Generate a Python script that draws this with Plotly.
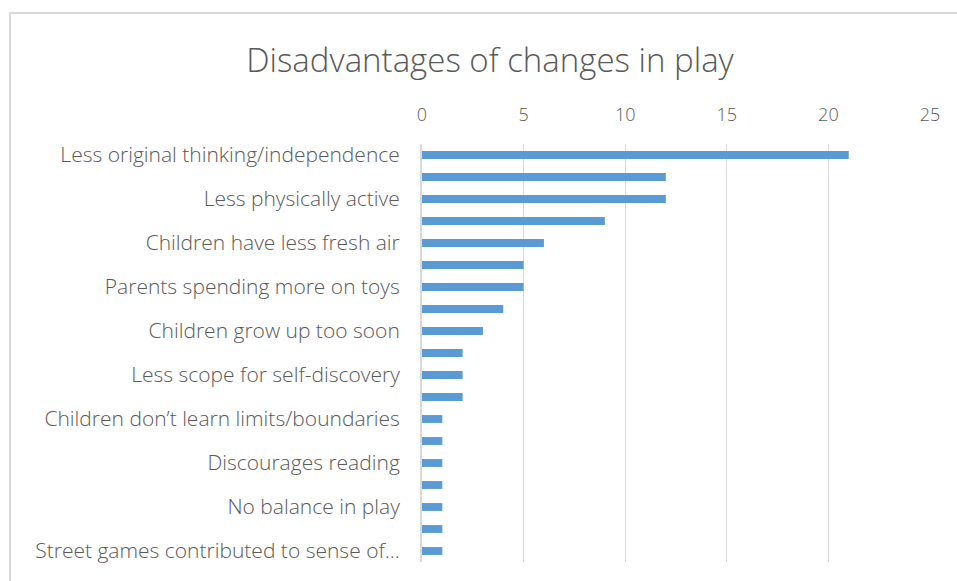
import plotly.graph_objects as go

# Survey responses: disadvantages of changes in play (count of mentions)
categories = [
    "Less original thinking/independence",
    "Less social interaction",
    "Less physically active",
    "Less imaginative play",
    "Children have less fresh air",
    "Too much screen time",
    "Parents spending more on toys",
    "Less play with other ages",
    "Children grow up too soon",
    "Less risk-taking",
    "Less scope for self-discovery",
    "Fewer traditional games",
    "Children don’t learn limits/boundaries",
    "More isolated play",
    "Discourages reading",
    "Less family play",
    "No balance in play",
    "Less use of local spaces",
    "Street games contributed to sense of…",
]
values = [21, 12, 12, 9, 6, 5, 5, 4, 3, 2, 2, 2, 1, 1, 1, 1, 1, 1, 1]

# Only every other category gets a visible label
shown_labels = categories[::2]

x_ticks = [0, 5, 10, 15, 20, 25]

text_color = "#595959"
grid_color = "#d9d9d9"
font_family = "Open Sans, Calibri, sans-serif"

fig = go.Figure(
    go.Bar(
        x=values,
        y=categories,
        orientation="h",
        marker=dict(color="#5b9bd5", line=dict(width=0)),
    )
)

W, H = 957, 581
left, right, top, bottom = 422, 27, 144, 19
pw = W - left - right
ph = H - top - bottom

def px_to_paper_x(px):
    return (px - left) / pw

def px_to_paper_y(py):
    return (H - bottom - py) / ph

fig.update_layout(
    width=W,
    height=H,
    margin=dict(l=left, r=right, t=top, b=bottom, autoexpand=False),
    paper_bgcolor="white",
    plot_bgcolor="white",
    bargap=0.64,
    showlegend=False,
    title=dict(
        text="Disadvantages of changes in play",
        x=px_to_paper_x(490),
        xref="paper",
        xanchor="center",
        y=1 - 60 / H,
        yanchor="middle",
        font=dict(family=font_family, size=33, color=text_color, weight=300),
    ),
    xaxis=dict(
        side="top",
        range=[0, 25],
        tickvals=x_ticks,
        showgrid=True,
        gridcolor=grid_color,
        gridwidth=1,
        zeroline=False,
        showline=False,
        ticks="",
        ticklabelstandoff=18,
        tickfont=dict(family=font_family, size=18, color=text_color, weight=300),
    ),
    yaxis=dict(
        type="category",
        categoryorder="array",
        categoryarray=categories,
        autorange="reversed",
        tickvals=shown_labels,
        ticktext=shown_labels,
        showgrid=False,
        showline=True,
        linecolor=grid_color,
        linewidth=2,
        ticks="",
        ticklabelstandoff=16,
        tickfont=dict(family=font_family, size=21, color=text_color, weight=300),
    ),
    shapes=[
        dict(
            type="rect",
            xref="paper",
            yref="paper",
            x0=px_to_paper_x(10),
            x1=px_to_paper_x(990),
            y0=px_to_paper_y(620),
            y1=px_to_paper_y(13),
            line=dict(color=grid_color, width=2),
            fillcolor="rgba(0,0,0,0)",
            layer="below",
        )
    ],
)

fig.write_html("out.html")
